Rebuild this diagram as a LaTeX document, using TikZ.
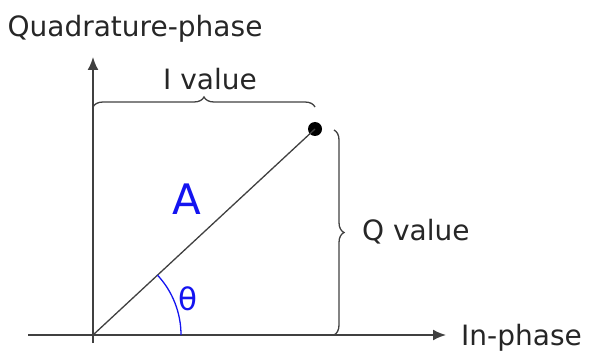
\documentclass[tikz,border=0pt]{standalone}
\usepackage{fontspec}
\setmainfont{DejaVu Sans}
\usetikzlibrary{arrows.meta,positioning,calc,decorations.pathreplacing}
\definecolor{axisgray}{RGB}{64,64,64}
\definecolor{phaseblue}{RGB}{20,20,240}

\begin{document}
\begin{tikzpicture}[x=1pt,y=1pt,>={Latex[length=13pt,width=11pt]},axis/.style={draw=axisgray,line width=1.8pt},lbl/.style={font=\fontsize{28}{32}\selectfont,text=black!85,inner sep=0pt},brc/.style={draw=axisgray,line width=1.3pt,decorate,decoration={brace,amplitude=10pt}},bluelbl/.style={text=phaseblue,inner sep=0pt}]
\useasboundingbox (0,0) rectangle (591,351);
\coordinate (origin) at (93,16);
\coordinate (xstart) at (28,16);
\coordinate (xend) at (446,16);
\coordinate (ystart) at (93,8);
\coordinate (yend) at (93,294);
\node[circle,fill=black,minimum size=14pt,inner sep=0pt] (point) at (315,222) {};
\draw[axis,->] (xstart)--(xend);
\draw[axis,->] (ystart)--(yend);
\draw[draw=axisgray,line width=1.3pt] (origin)--(point.center);
\draw[draw=phaseblue,line width=1.3pt] ($(origin)+(88,0)$) arc[start angle=0,end angle=42.9,radius=88];
\coordinate (ibrace) at (93,244);
\draw[brc] (ibrace)--(ibrace-|point);
\coordinate (qbrace) at (334,221);
\draw[brc] (qbrace)--(qbrace|-origin);
\node[lbl] (quad) at (135,322) {Quadrature-phase};
\node[lbl] (ival) at (210,272) {I value};
\node[lbl,anchor=west] (qval) at (362,119) {Q value};
\node[lbl,anchor=west] (inph) at (461,13) {In-phase};
\node[bluelbl,font=\fontsize{42}{46}\selectfont] (amp) at (187,152) {A};
\node[bluelbl,font=\fontsize{31}{35}\selectfont] (theta) at (188,52) {θ};
\end{tikzpicture}
\end{document}
